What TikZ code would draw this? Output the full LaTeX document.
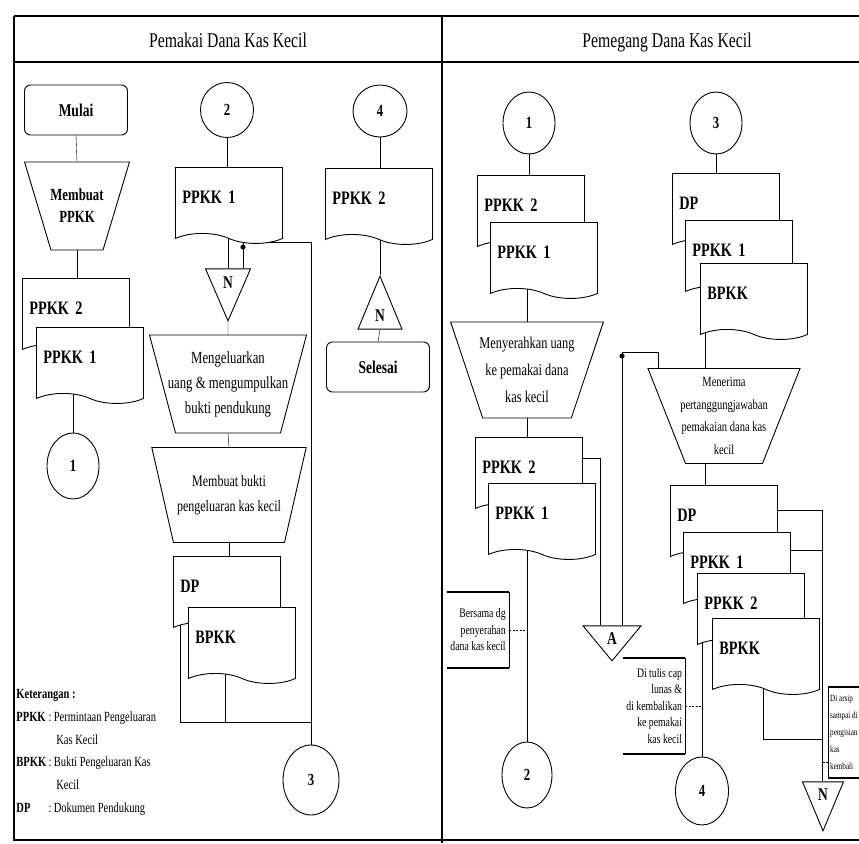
\documentclass[tikz,border=0pt]{standalone}
\usepackage{fontspec}
\setmainfont{Liberation Serif}[FakeStretch=0.75]
\usetikzlibrary{shapes.geometric,shapes.symbols,backgrounds}

\begin{document}
\begin{tikzpicture}[
  x=1pt, y=-1pt, line width=0.9pt,
  lane/.style={line width=1.3pt},
  title/.style={font=\fontsize{21}{24}\selectfont},
  terminal/.style={draw, rounded corners=6pt, minimum width=103pt,
    minimum height=50pt, font=\fontsize{18}{20}\selectfont\bfseries},
  manual/.style={trapezium, trapezium stretches=true, shape border rotate=180,
    trapezium left angle=74, trapezium right angle=74, draw, fill=white,
    align=center, inner xsep=-20pt, inner ysep=2pt,
    minimum width=155pt, minimum height=96pt},
  doc/.style={shape=tape, tape bend top=none, tape bend bottom=out and in,
    tape bend height=10pt, draw, fill=white, anchor=north west,
    text width=93pt, align=left, text height=36pt, text depth=30pt,
    inner xsep=7pt, inner ysep=0pt, font=\fontsize{19}{22}\selectfont\bfseries},
  conn/.style={ellipse, draw, fill=white, inner sep=0pt,
    font=\fontsize{17}{20}\selectfont\bfseries},
  offpage/.style={isosceles triangle, isosceles triangle stretches, draw,
    fill=white, inner sep=0pt, anchor=apex, font=\fontsize{18}{20}\selectfont\bfseries},
  note/.style={anchor=north west, inner sep=3pt, font=\fontsize{13}{16.5}\selectfont},
  bar/.style={line width=1.4pt},
  side/.style={line width=0.5pt},
  remark/.style={line width=0.6pt, dash pattern=on 2pt off 1.5pt}
]
\useasboundingbox (0,0) rectangle (859,843);
\clip (0,0) rectangle (859,843);

% lanes
\node[title] (hdra) at (228,40) {Pemakai Dana Kas Kecil};
\node[title] (hdrb) at (667,42) {Pemegang Dana Kas Kecil};

% Pemakai Dana Kas Kecil
\node[terminal] (mulai) at (76,110) {Mulai};
\node[manual, minimum width=105pt, minimum height=88pt, trapezium left angle=80,
  trapezium right angle=80, font=\fontsize{17}{22}\selectfont\bfseries] (buatppkk) at (77,206) {Membuat\\PPKK};
\node[doc] (ppkk2a) at (22,278) {PPKK 2};
\node[doc] (ppkk1a) at (36,327) {PPKK 1};
\node[conn, minimum width=52pt, minimum height=66pt] (c1a) at (73,466) {1};

\node[conn, minimum width=53pt, minimum height=55pt] (c2a) at (227,110) {2};
\node[doc] (ppkk1b) at (175,167) {PPKK 1};
\node[offpage, shape border rotate=-90, minimum width=45pt, minimum height=52pt] (n1) at (228,322) {N};
\node[manual, minimum width=157pt, minimum height=98pt,
  font=\fontsize{17}{25}\selectfont] (keluar) at (228,384) {Mengeluarkan\\uang \& mengumpulkan\\bukti pendukung};
\node[manual, minimum height=95pt, font=\fontsize{16}{25}\selectfont] (buatbukti) at (229,495) {Membuat bukti\\pengeluaran kas kecil};
\node[doc] (dpa) at (173,556) {DP};
\node[doc] (bpkka) at (188,607) {BPKK};
\node[conn, minimum width=56pt, minimum height=70pt] (c3a) at (311,780) {3};

\node[conn, minimum width=54pt, minimum height=52pt] (c4a) at (380,111) {4};
\node[doc] (ppkk2b) at (325,168) {PPKK 2};
\node[offpage, shape border rotate=90, minimum width=44pt, minimum height=53pt] (n2) at (380,275) {N};
\node[terminal] (selesai) at (378,367) {Selesai};

\node[anchor=north west, inner sep=0pt, font=\fontsize{14}{22.8}\selectfont] (ket) at (16,682) {%
  \begin{tabular}{@{}l@{\,}l@{\,}l@{}}
  \multicolumn{3}{@{}l}{\textbf{Keterangan :}}\\
  \textbf{PPKK} & : & Permintaan Pengeluaran\\
   & & \ Kas Kecil\\
  \textbf{BPKK} & : & Bukti Pengeluaran Kas\\
   & & \ Kecil\\
  \textbf{DP} & : & Dokumen Pendukung
  \end{tabular}};

% Pemegang Dana Kas Kecil
\node[conn, minimum width=52pt, minimum height=62pt] (c1b) at (529,123) {1};
\node[doc] (ppkk2c) at (477,175) {PPKK 2};
\node[doc] (ppkk1c) at (490,222) {PPKK 1};
\node[manual, minimum width=153pt, minimum height=96pt,
  font=\fontsize{16.5}{27}\selectfont] (serah) at (527,370) {Menyerahkan uang\\ke pemakai dana\\kas kecil};
\node[doc] (ppkk2d) at (475,437) {PPKK 2};
\node[doc] (ppkk1d) at (488,483) {PPKK 1};
\node[offpage, shape border rotate=-90, minimum width=58pt, minimum height=35pt] (ka) at (612,662) {A};
\node[note, align=right, minimum width=58pt, minimum height=75pt] (bersama) at (447,592) {Bersama dg\\penyerahan\\dana kas kecil};
\node[conn, minimum width=50pt, minimum height=66pt] (c2b) at (527,775) {2};

\node[conn, minimum width=52pt, minimum height=62pt] (c3b) at (716,123) {3};
\node[doc] (dpb) at (672,173) {DP};
\node[doc] (ppkk1e) at (685,220) {PPKK 1};
\node[doc] (bpkkb) at (700,263) {BPKK};
\node[manual, minimum width=153pt, minimum height=95pt,
  font=\fontsize{14}{22.5}\selectfont] (terima) at (724,416) {Menerima\\pertanggungjawaban\\pemakaian dana kas\\kecil};
\node[doc] (dpc) at (670,485) {DP};
\node[doc] (ppkk1f) at (683,532) {PPKK 1};
\node[doc] (ppkk2e) at (697,573) {PPKK 2};
\node[doc] (bpkkc) at (712,618) {BPKK};
\node[note, align=right, minimum width=59pt, minimum height=95pt] (ditulis) at (623,658) {Di tulis cap\\lunas \&\\di kembalikan\\ke pemakai\\kas kecil};
\node[conn, minimum width=53pt, minimum height=68pt] (c4b) at (702,791) {4};
\node[note, align=left, inner xsep=1.5pt, minimum width=31pt, minimum height=90pt,
  font=\fontsize{9.5}{17}\selectfont] (diarsip) at (828,687) {Di arsip\\sampai di\\pengisian\\kas\\kembali};
\node[offpage, shape border rotate=-90, minimum width=41pt, minimum height=49pt] (n3) at (823,832) {N};

\begin{scope}[on background layer]
\fill[white] (0,0) rectangle (859,843);
\draw[lane] (14,16) -- (859,16);
\draw[lane] (14,62) -- (859,62);
\draw[lane] (14,16) -- (14,840) -- (859,840);
\draw[lane] (442,16) -- (442,843);

\draw (mulai.south) -- (buatppkk.north);
\draw (buatppkk.south) -- (buatppkk.south |- ppkk2a.north);
\draw (c1a.north |- ppkk1a.south) -- (c1a.north);
\draw (c2a.south) -- (c2a.south |- ppkk1b.north);
\draw (n1.north |- ppkk1b.south) -- (n1.north);
\draw (n1.south) -- (keluar.north);
\draw (keluar.south) -- (buatbukti.north);
\draw (buatbukti.south) -- (buatbukti.south |- dpa.north);
\draw (dpa.south west -| 180,0) -- (180,722) -- (c3a.north |- 0,722) -- (c3a.north);
\draw (bpkka.south -| 225,0) -- (225,722);
\draw (c3a.north |- 0,722) -- (c3a.north |- 0,242) -- (243,242) -- (n1.north -| 243,0);
\fill (243,247) circle (2.6pt);
\draw (c4a.south) -- (c4a.south |- ppkk2b.north);
\draw (n2.apex |- ppkk2b.south) -- (n2.apex);
\draw (n2.south) -- (selesai.north);

\draw (c1b.south) -- (c1b.south |- ppkk2c.north);
\draw (serah.north |- ppkk1c.south) -- (serah.north);
\draw (serah.south) -- (serah.south |- ppkk2d.north);
\draw (c2b.north |- ppkk1d.south) -- (c2b.north);
\draw (ppkk2d.east |- 0,458) -- (600,458) -- (ka.north -| 600,0);
\draw (ka.north -| 622,0) -- (622,352) -- (658,352) -- (terima.north -| 658,0);
\fill (622,356) circle (2.6pt);
\draw[remark] (bersama.east) -- (bersama.east -| c2b.north);

\draw (c3b.south) -- (c3b.south |- dpb.north);
\draw (bpkkb.south -| 705,0) -- (terima.north -| 705,0);
\draw (terima.south -| 705,0) -- (dpc.north -| 705,0);
\draw (dpc.east |- 0,510) -- (822,510) -- (n3.north -| 822,0);
\draw (ppkk1f.east |- 0,550) -- (822,550);
\draw (bpkkc.south -| 763,0) -- (763,739) -- (822,739);
\draw (ppkk2e.south west -| 702,0) -- (c4b.north);
\draw[remark] (ditulis.east) -- (ditulis.east -| c4b.north);
\draw[remark] (diarsip.west |- 0,762) -- (822,762);
\end{scope}

% annotation brackets
\draw[bar] (bersama.north west) -- (bersama.north east);
\draw[bar] (bersama.south west) -- (bersama.south east);
\draw[side] (bersama.north east) -- (bersama.south east);
\draw[bar] (ditulis.north west) -- (ditulis.north east);
\draw[bar] (ditulis.south west) -- (ditulis.south east);
\draw[side] (ditulis.north east) -- (ditulis.south east);
\draw[bar] (diarsip.north west) -- (859,687);
\draw[bar] (diarsip.south west) -- (diarsip.south west -| 859,0);
\draw[side] (diarsip.north west) -- (diarsip.south west);
\end{tikzpicture}
\end{document}
